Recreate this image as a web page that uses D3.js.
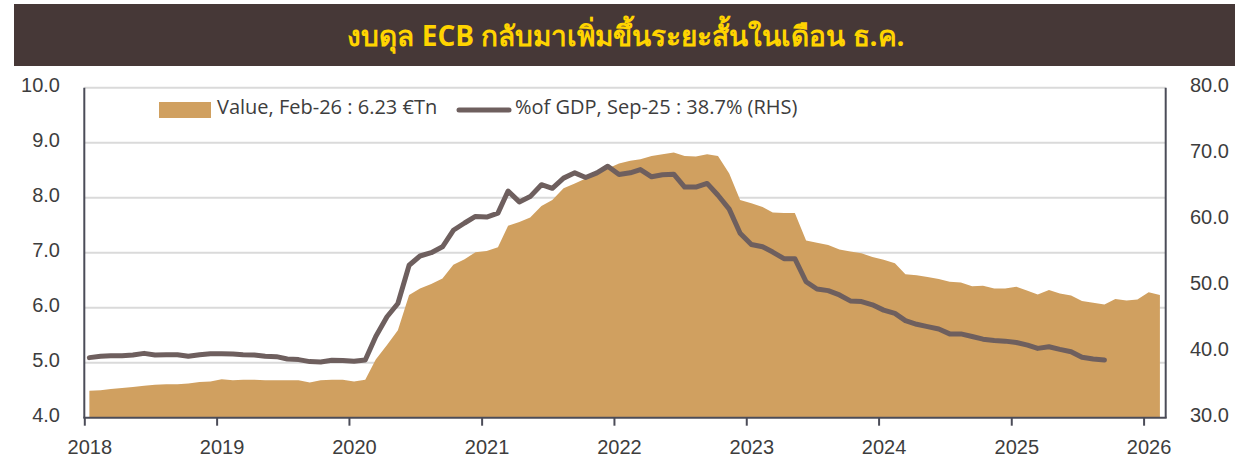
<!DOCTYPE html>
<html>

<head>
    <meta charset="utf-8">
    <style>
        body {
            margin: 0;
            background: #fff;
        }

        svg {
            display: block;
            font-family: 'Open Sans', 'Noto Sans', sans-serif;
        }

        .tick text {
            font-size: 20px;
            fill: #3d3d3d;
        }

        .domain {
            display: none;
        }

        .grid line {
            stroke: #dadada;
            stroke-width: 2;
        }

        .legend-text {
            font-size: 20px;
            fill: #3d3d3d;
        }
    </style>
</head>

<body>
    <svg width="1239" height="469"></svg>
</body>

<script src="https://d3js.org/d3.v7.min.js"></script>

<script>
    // ECB balance sheet, monthly Jan-2018 .. Feb-2026 (EUR tn, left axis)
    let balanceStart = "2018-01-15"
    let balance = [
        4.49, 4.50, 4.52, 4.54, 4.56, 4.58, 4.60, 4.61, 4.61, 4.62, 4.65, 4.66,
        4.70, 4.68, 4.69, 4.69, 4.68, 4.68, 4.68, 4.68, 4.64, 4.68, 4.69, 4.69,
        4.66, 4.69, 5.06, 5.32, 5.59, 6.23, 6.35, 6.43, 6.53, 6.78, 6.88, 7.01,
        7.03, 7.10, 7.49, 7.56, 7.64, 7.85, 7.96, 8.17, 8.26, 8.35, 8.44, 8.53,
        8.62, 8.67, 8.70, 8.76, 8.79, 8.82, 8.76, 8.75, 8.79, 8.76, 8.44, 7.96,
        7.90, 7.83, 7.73, 7.72, 7.72, 7.22, 7.18, 7.14, 7.06, 7.02, 6.99, 6.92,
        6.87, 6.81, 6.61, 6.59, 6.56, 6.52, 6.47, 6.46, 6.39, 6.40, 6.35, 6.35,
        6.38, 6.31, 6.24, 6.32, 6.26, 6.22, 6.12, 6.09, 6.06, 6.16, 6.13, 6.15,
        6.28, 6.23
    ]

    // balance sheet as % of GDP, monthly Jan-2018 .. Sep-2025 (right axis)
    let gdpStart = "2018-01-15"
    let pctGdp = [
        39.1, 39.3, 39.4, 39.4, 39.5, 39.75, 39.5, 39.55, 39.55, 39.3, 39.55, 39.7,
        39.7, 39.65, 39.55, 39.5, 39.3, 39.25, 38.9, 38.8, 38.5, 38.45, 38.7, 38.65,
        38.55, 38.75, 42.3, 45.3, 47.3, 53.1, 54.5, 55.0, 55.9, 58.4, 59.5, 60.5,
        60.4, 61.0, 64.35, 62.7, 63.5, 65.3, 64.75, 66.3, 67.1, 66.4, 67.1, 68.1,
        66.85, 67.1, 67.6, 66.5, 66.8, 66.9, 64.95, 64.95, 65.5, 63.7, 61.6, 57.95,
        56.25, 55.9, 55.1, 54.1, 54.1, 50.6, 49.5, 49.25, 48.6, 47.7, 47.6, 47.1,
        46.3, 45.8, 44.7, 44.15, 43.8, 43.45, 42.7, 42.7, 42.3, 41.9, 41.7, 41.6,
        41.4, 41.0, 40.5, 40.75, 40.35, 40.0, 39.15, 38.9, 38.75
    ]

    let leftTicks = [4, 5, 6, 7, 8, 9, 10]
    let rightTicks = [30, 40, 50, 60, 70, 80]
    let yearTicks = [2018, 2019, 2020, 2021, 2022, 2023, 2024, 2025, 2026]

    let title = "งบดุล ECB กลับมาเพิ่มขึ้นระยะสั้นในเดือน ธ.ค."
    let legendLabels = ["Value, Feb-26 : 6.23 €Tn", "%of GDP, Sep-25 : 38.7% (RHS)"]

    let fillColor = "#d0a060"
    let lineColor = "#6e5f5e"
    let axisColor = "#4b4c58"

    let svg = d3.select("svg")

    let margin = { top: 87.7, right: 1165.7, bottom: 417.7, left: 84.3 }

    let parse = d3.timeParse("%Y-%m-%d")
    let monthly = (start, values) => values.map((v, i) => ({
        date: d3.timeMonth.offset(parse(start), i),
        value: v
    }))

    let balanceData = monthly(balanceStart, balance)
    let gdpData = monthly(gdpStart, pctGdp)

    let x = d3.scaleTime()
        .domain([new Date(2018, 0, 1), new Date(2026, 2, 3)])
        .range([margin.left, margin.right])

    let y = d3.scaleLinear()
        .domain([4, 10])
        .range([margin.bottom, margin.top])

    let y2 = d3.scaleLinear()
        .domain([30, 80])
        .range([margin.bottom, margin.top])

    // title bar
    svg.append("rect")
        .attr("x", 14)
        .attr("y", 4)
        .attr("width", 1221)
        .attr("height", 62)
        .attr("fill", "#463837")

    svg.append("text")
        .attr("x", 626)
        .attr("y", 46)
        .attr("text-anchor", "middle")
        .style("font-size", "28px")
        .style("font-weight", "bold")
        .style("fill", "#ffd400")
        .text(title)

    // grid
    svg.append("g")
        .attr("class", "grid")
        .selectAll("line")
        .data(leftTicks.slice(1))
        .join("line")
        .attr("x1", margin.left)
        .attr("x2", margin.right)
        .attr("y1", d => y(d))
        .attr("y2", d => y(d))

    // area
    let area = d3.area()
        .x(d => x(d.date))
        .y0(margin.bottom)
        .y1(d => y(d.value))

    svg.append("path")
        .datum(balanceData)
        .attr("fill", fillColor)
        .attr("d", area)

    // line
    let line = d3.line()
        .x(d => x(d.date))
        .y(d => y2(d.value))

    svg.append("path")
        .datum(gdpData)
        .attr("fill", "none")
        .attr("stroke", lineColor)
        .attr("stroke-width", 5)
        .attr("stroke-linejoin", "round")
        .attr("stroke-linecap", "round")
        .attr("d", line)

    // axes
    svg.append("g")
        .attr("class", "y axis")
        .attr("transform", `translate(60, -3)`)
        .call(d3.axisLeft(y).tickValues(leftTicks).tickSize(0).tickPadding(0).tickFormat(d3.format(".1f")))

    svg.append("g")
        .attr("class", "y2 axis")
        .attr("transform", `translate(1190, -3)`)
        .call(d3.axisRight(y2).tickValues(rightTicks).tickSize(0).tickPadding(0).tickFormat(d3.format(".1f")))

    let xAxis = svg.append("g")
        .attr("class", "x axis")
        .attr("transform", `translate(0, ${margin.bottom})`)
        .call(d3.axisBottom(x)
            .tickValues(yearTicks.map(d => new Date(d, 0, 1)))
            .tickSize(8)
            .tickPadding(14)
            .tickFormat(d3.timeFormat("%Y")))

    xAxis.selectAll(".tick line")
        .attr("stroke", axisColor)
        .attr("stroke-width", 2)
    xAxis.selectAll(".tick text")
        .attr("dx", 5)

    // frame lines
    let frame = svg.append("g")
        .attr("stroke", axisColor)
        .attr("stroke-width", 2)
    frame.append("line")
        .attr("x1", margin.left).attr("x2", margin.left)
        .attr("y1", margin.top).attr("y2", margin.bottom)
    frame.append("line")
        .attr("x1", margin.right).attr("x2", margin.right)
        .attr("y1", margin.top).attr("y2", margin.bottom)
    frame.append("line")
        .attr("x1", margin.left - 1).attr("x2", margin.right + 1)
        .attr("y1", margin.bottom).attr("y2", margin.bottom)

    // legend
    svg.append("rect")
        .attr("x", 159)
        .attr("y", 102)
        .attr("width", 52)
        .attr("height", 16)
        .attr("fill", fillColor)

    svg.append("text")
        .attr("class", "legend-text")
        .attr("x", 217)
        .attr("y", 114)
        .text(legendLabels[0])

    svg.append("line")
        .attr("x1", 459)
        .attr("x2", 509)
        .attr("y1", 110)
        .attr("y2", 110)
        .attr("stroke", lineColor)
        .attr("stroke-width", 5)
        .attr("stroke-linecap", "round")

    svg.append("text")
        .attr("class", "legend-text")
        .attr("x", 515)
        .attr("y", 114)
        .text(legendLabels[1])
</script>

</html>
